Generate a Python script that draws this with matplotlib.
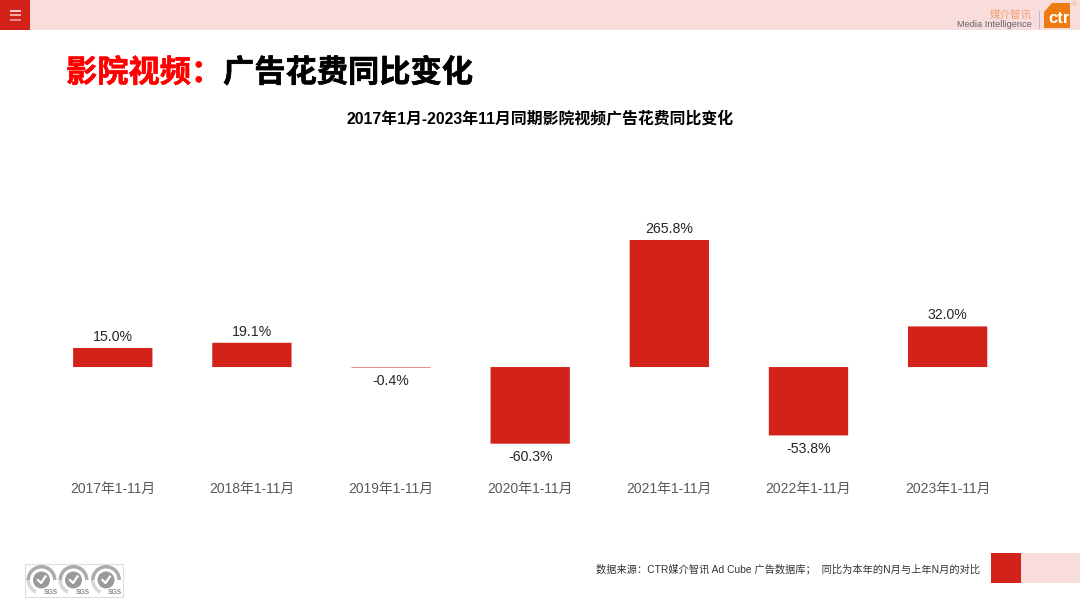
import matplotlib
matplotlib.use('Agg')
import matplotlib.pyplot as plt
import matplotlib.patheffects as pe
from matplotlib.patches import Rectangle, Polygon, Circle, Wedge

plt.rcParams['font.family'] = ['Liberation Sans', 'Noto Sans CJK SC', 'DejaVu Sans']

categories = ['2017年1-11月', '2018年1-11月', '2019年1-11月', '2020年1-11月',
              '2021年1-11月', '2022年1-11月', '2023年1-11月']
values = [15.0, 19.1, -0.4, -60.3, 265.8, -53.8, 32.0]

RED = '#D2221A'
PINK = '#F9DCDC'
ORANGE = '#EE7A12'
W, H = 1080, 608

fig = plt.figure(figsize=(W / 100, H / 100), dpi=100, facecolor='white')

# page furniture goes on a full size axes measured in pixels
page = fig.add_axes([0, 0, 1, 1])
page.set_xlim(0, W)
page.set_ylim(H, 0)
page.axis('off')

# header band
page.add_patch(Rectangle((0, 0), W, 29.5, color=PINK, lw=0))
page.add_patch(Rectangle((0, 0), 29.5, 29.5, color=RED, lw=0))
for y, a in [(10.5, 1), (14.5, 0.8), (19.5, 0.6)]:
    page.plot([9.5, 21], [y, y], color='white', lw=1.1, alpha=a, solid_capstyle='butt')

# ctr logo
page.text(1032, 15, '媒介智讯', color='#F0A070', fontsize=7.6, ha='right', va='center')
page.text(1032, 24.5, 'Media Intelligence', color='#666666', fontsize=6.7, ha='right', va='center')
page.plot([1038.5, 1038.5], [11, 28], color='#BBBBBB', lw=0.7)
page.add_patch(Polygon([(1044, 12), (1052, 3), (1070, 3), (1070, 28), (1044, 28)],
                       closed=True, color=ORANGE, lw=0))
page.text(1059, 18.5, 'ctr', color='white', fontsize=12, fontweight='bold',
          ha='center', va='center')
page.text(1074, 4.5, '®', color='#F0A070', fontsize=4.5, ha='center', va='center')

# heading
stroke = [pe.withStroke(linewidth=0.4, foreground='#FF0000')]
page.text(66, 74, '影院视频：', color='#FF0000', fontsize=22.5, fontweight='bold', va='center',
          path_effects=stroke)
stroke = [pe.withStroke(linewidth=0.4, foreground='black')]
page.text(223, 74, '广告花费同比变化', color='black', fontsize=22.5, fontweight='bold', va='center',
          path_effects=stroke)
page.text(540, 119.5, '2017年1月-2023年11月同期影院视频广告花费同比变化', color='black',
          fontsize=11.45, fontweight='bold', ha='center', va='center')

# footer
page.text(980, 569.5, '数据来源：CTR媒介智讯 Ad Cube 广告数据库；  同比为本年的N月与上年N月的对比',
          color='#333333', fontsize=7.35, ha='right', va='center')
page.add_patch(Rectangle((991, 553), 30, 30, color=RED, lw=0))
page.add_patch(Rectangle((1021, 553), 59, 30, color=PINK, lw=0))

# SGS badges
page.add_patch(Rectangle((25, 563.5), 97.5, 33.5, fill=False, ec='#DDDDDD', lw=0.8))
for cx in [41.5, 73.5, 106]:
    page.add_patch(Wedge((cx, 580), 15, 180, 360, width=3.5, color='#ABABAB', lw=0))
    page.add_patch(Wedge((cx, 580), 15, 115, 180, width=3.5, color='#D8D8D8', lw=0))
    page.add_patch(Circle((cx, 580), 8.5, color='#9A9A9A', lw=0))
    page.plot([cx - 3.5, cx - 0.5, cx + 4], [580, 583, 576.5], color='white', lw=1.6)
    page.text(cx + 9, 592.5, 'SGS', color='#8A8A8A', fontsize=4.8, fontweight='bold',
              ha='center', va='center')

# chart: the top of the axes cuts off the tallest bar, like the original
top, bottom = 240, 456
left, right = 43.2, 1017.2
ax = fig.add_axes([left / W, 1 - bottom / H, (right - left) / W, (bottom - top) / H])
ax.patch.set_alpha(0)
# snapping off so the -0.4 sliver stays a faint line
ax.bar(range(len(values)), values, width=0.57, color=RED, snap=False)
ax.set_xlim(-0.5, 6.5)
ax.set_ylim(-70, 100)
ax.set_yticks([])
ax.set_xticks(range(len(categories)))
ax.set_xticklabels(categories, fontsize=10, color='#595959')
ax.tick_params(axis='x', length=0, pad=18.5)
for s in ax.spines.values():
    s.set_visible(False)

for i, v in enumerate(values):
    if v >= 0:
        ax.annotate(f'{v:.1f}%', (i, min(v, 100)), xytext=(0, 3), textcoords='offset points',
                    ha='center', va='bottom', fontsize=10.2, color='#262626', annotation_clip=False)
    else:
        ax.annotate(f'{v:.1f}%', (i, v), xytext=(0, -4.5), textcoords='offset points',
                    ha='center', va='top', fontsize=10.2, color='#262626', annotation_clip=False)

fig.savefig('out.png', dpi=100)
